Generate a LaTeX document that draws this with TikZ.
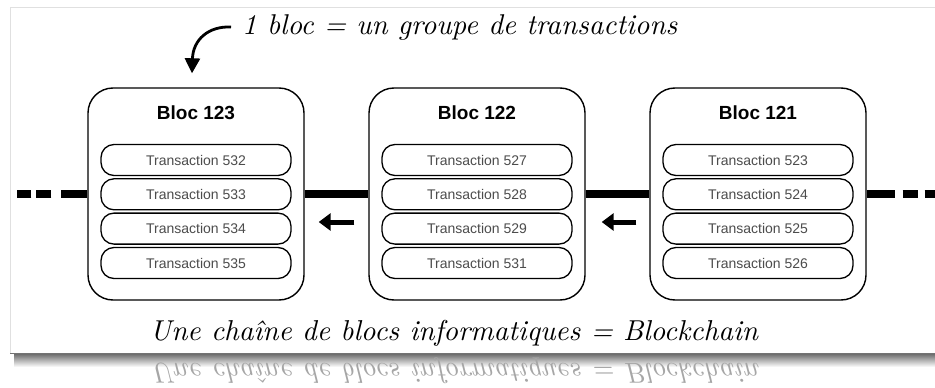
\documentclass[tikz,border=0pt]{standalone}
\usepackage{fontspec}
\usepackage{graphicx}
\newfontfamily\sansf{Liberation Sans}
\usetikzlibrary{arrows.meta}
\tikzset{
  cardbox/.style={draw=black!12, fill=white, line width=0.8pt, minimum width=935pt, minimum height=346pt, inner sep=0pt, anchor=north west},
  blockbox/.style={draw=black, line width=1.4pt, fill=white, rounded corners=25pt, minimum width=216pt, minimum height=212pt, inner sep=0pt},
  txbox/.style={draw=black, line width=1.3pt, fill=white, rounded corners=13pt, minimum width=190pt, minimum height=31pt, inner sep=0pt, font=\sansf\fontsize{14}{16}\selectfont, text=black!70},
  titletext/.style={font=\sansf\bfseries\fontsize{19}{21}\selectfont},
  chainline/.style={line width=8pt, black},
  bigarrow/.style={line width=5pt, -{Triangle[length=12pt,width=17pt]}},
  hand/.style={font=\itshape, inner sep=0pt},
}
\begin{document}
\begin{tikzpicture}[x=1pt,y=-1pt]
\useasboundingbox (0,0) rectangle (935,388);
% shadow and card
\shade[top color=black!65, bottom color=white] (14,352) rectangle (935,367);
\node[cardbox] (card) at (10,7) {};
\draw[black!55, line width=1pt] (card.south west) -- (card.south east);

% blocks
\foreach \cx/\b/\ta/\tb/\tc/\td in {196/123/532/533/534/535, 477/122/527/528/529/531, 758/121/523/524/525/526}{
  \node[blockbox] (b\b) at (\cx,194) {};
  \node[titletext] (h\b) at ([yshift=-25pt]b\b.north) {Bloc \b};
  \node[txbox] (t\ta) at (\cx,160) {Transaction \ta};
  \node[txbox] (t\tb) at (\cx,194.3) {Transaction \tb};
  \node[txbox] (t\tc) at (\cx,228.6) {Transaction \tc};
  \node[txbox] (t\td) at (\cx,263) {Transaction \td};
}

% chain
\coordinate (leftend) at (17,194);
\coordinate (rightend) at (935,194);
\draw[chainline] (b123.east) -- (b122.west);
\draw[chainline] (b122.east) -- (b121.west);
\draw[chainline, dash pattern=on 26pt off 10pt on 15pt off 5pt] (b123.west) -- (leftend);
\draw[chainline, dash pattern=on 28pt off 8pt on 15pt off 7pt] (b121.east) -- (rightend);

% direction arrows
\draw[bigarrow] ([xshift=-14pt,yshift=-28pt]b122.west) -- ([xshift=14pt,yshift=-28pt]b123.east);
\draw[bigarrow] ([xshift=-13pt,yshift=-28pt]b121.west) -- ([xshift=16pt,yshift=-28pt]b122.east);

% annotation
\node[hand, anchor=west] (note) at (242,28) {\resizebox{435pt}{!}{1 bloc = un groupe de transactions}};
\draw[line width=2.8pt, -{Triangle[length=15pt,width=15pt]}] ([xshift=-11pt,yshift=1pt]note.west) .. controls (208,26) and (193,40) .. ([xshift=-4pt,yshift=14pt]b123.north);

% caption and reflection
\node[hand] (caption) at (454,333) {\resizebox{608pt}{!}{Une chaîne de blocs informatiques = Blockchain}};
\node[hand, text=black!35] (mirror) at ([yshift=-38pt]caption.center) {\scalebox{1}[-1]{\resizebox{608pt}{!}{Une chaîne de blocs informatiques = Blockchain}}};
\end{tikzpicture}
\end{document}
